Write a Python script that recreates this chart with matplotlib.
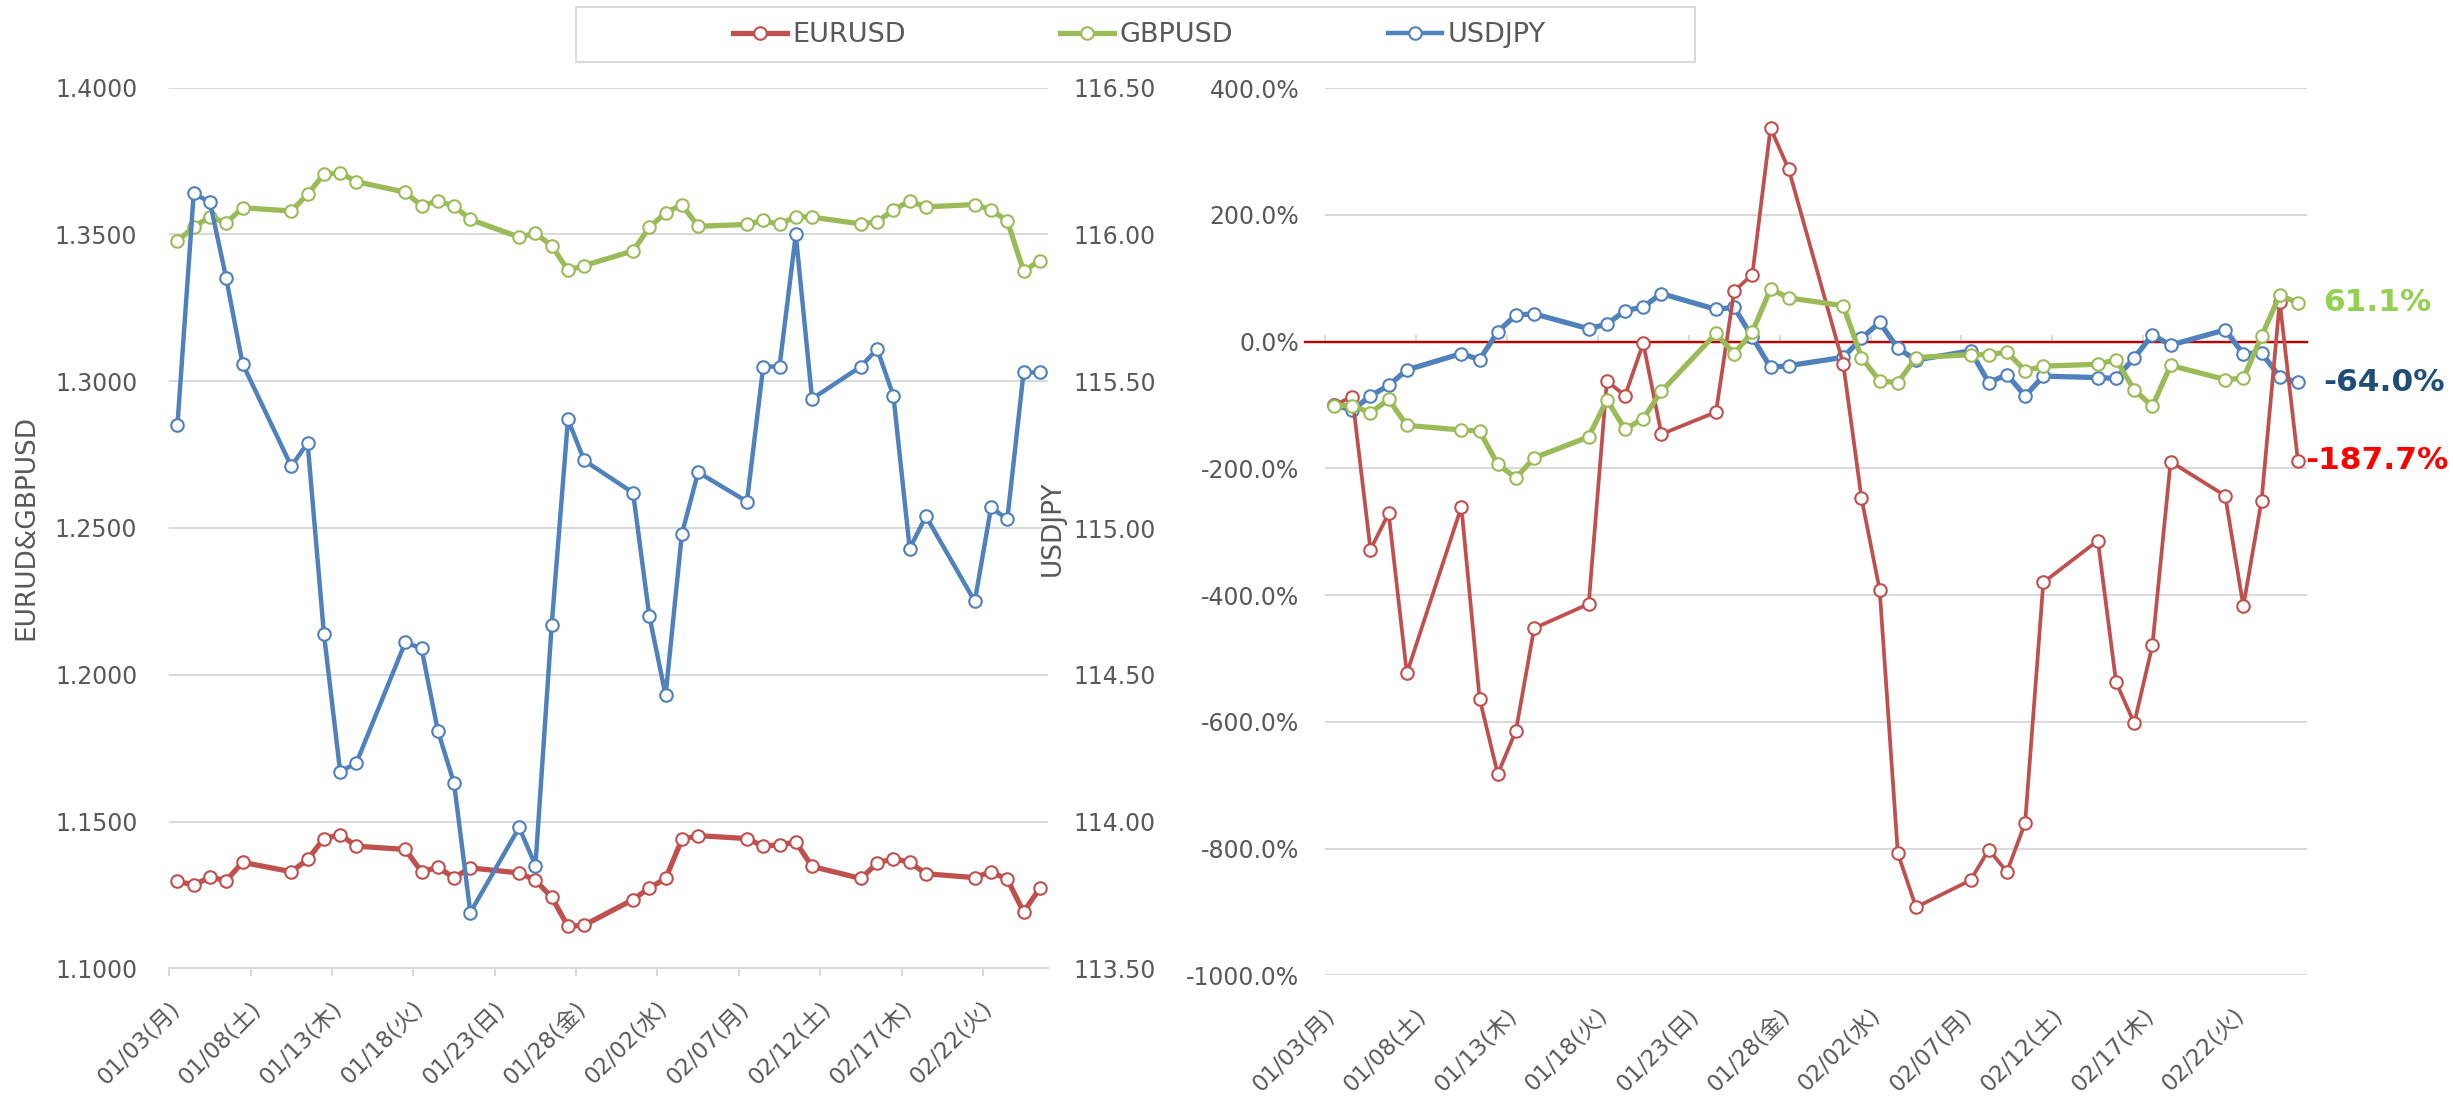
import numpy as np
import pandas as pd
import matplotlib
matplotlib.use("Agg")
import matplotlib.pyplot as plt
import matplotlib.dates as mdates
from matplotlib.lines import Line2D
from matplotlib.patches import Rectangle
from matplotlib.transforms import ScaledTranslation

plt.rcParams['font.family'] = ['DejaVu Sans', 'Noto Sans CJK JP']

# trading days 2022-01-03 .. 2022-02-25
dates = pd.bdate_range("2022-01-03", "2022-02-25")

# left chart: rates
eurusd = [1.1296, 1.1284, 1.1310, 1.1299, 1.1361,
          1.1329, 1.1371, 1.1442, 1.1455, 1.1416,
          1.1405, 1.1329, 1.1344, 1.1309, 1.1342,
          1.1325, 1.1300, 1.1242, 1.1143, 1.1147,
          1.1234, 1.1274, 1.1306, 1.1439, 1.1452,
          1.1442, 1.1416, 1.1421, 1.1430, 1.1347,
          1.1306, 1.1358, 1.1374, 1.1361, 1.1322,
          1.1309, 1.1329, 1.1303, 1.1192, 1.1273]
gbpusd = [1.3478, 1.3525, 1.3561, 1.3539, 1.3591,
          1.3580, 1.3637, 1.3705, 1.3710, 1.3680,
          1.3644, 1.3598, 1.3614, 1.3597, 1.3551,
          1.3491, 1.3504, 1.3462, 1.3378, 1.3394,
          1.3444, 1.3524, 1.3574, 1.3601, 1.3528,
          1.3534, 1.3548, 1.3534, 1.3561, 1.3559,
          1.3536, 1.3543, 1.3584, 1.3614, 1.3594,
          1.3602, 1.3584, 1.3546, 1.3375, 1.3411]
usdjpy = [115.35, 116.14, 116.11, 115.85, 115.56,
          115.21, 115.29, 114.64, 114.17, 114.20,
          114.61, 114.59, 114.31, 114.13, 113.69,
          113.98, 113.85, 114.67, 115.37, 115.23,
          115.12, 114.70, 114.43, 114.98, 115.19,
          115.09, 115.55, 115.55, 116.00, 115.44,
          115.55, 115.61, 115.45, 114.93, 115.04,
          114.75, 115.07, 115.03, 115.53, 115.53]

# right chart: percent values
eurusd_pct = [-100.0, -86.9, -328.2, -270.9, -523.5,
              -260.6, -563.3, -682.5, -613.9, -452.4,
              -413.9, -62.1, -85.1, -2.4, -146.0,
              -111.0, 80.0, 106.0, 337.2, 272.1,
              -35.5, -246.7, -391.6, -807.8, -892.7,
              -850.0, -801.8, -836.7, -759.6, -380.1,
              -313.9, -537.3, -602.4, -478.9, -189.4,
              -243.1, -417.5, -251.0, 63.3, -187.7]
gbpusd_pct = [-100.8, -100.8, -112.2, -91.1, -132.1,
              -139.4, -141.2, -193.7, -214.8, -183.4,
              -150.2, -91.7, -138.2, -121.3, -78.4,
              13.0, -19.0, 15.5, 83.2, 69.2,
              56.8, -25.0, -62.0, -64.7, -25.0,
              -20.5, -20.5, -16.3, -45.9, -38.6,
              -35.6, -28.4, -76.0, -102.0, -37.4,
              -59.7, -57.9, 8.4, 73.6, 61.1]
usdjpy_pct = [-100.0, -108.0, -85.7, -68.8, -44.6,
              -18.7, -28.4, 15.7, 42.2, 44.0,
              20.5, 27.8, 48.9, 54.9, 76.0,
              51.0, 54.5, 6.9, -40.5, -37.8,
              -24.7, 5.3, 30.6, -10.5, -28.9,
              -14.5, -64.6, -51.9, -85.7, -54.3,
              -56.7, -57.9, -25.3, 10.9, -5.4,
              18.7, -19.3, -17.5, -55.5, -64.0]

xtick_dates = pd.date_range("2022-01-03", periods=11, freq="5D")
xtick_labels = ["01/03(月)", "01/08(土)", "01/13(木)", "01/18(火)", "01/23(日)", "01/28(金)",
                "02/02(水)", "02/07(月)", "02/12(土)", "02/17(木)", "02/22(火)"]
left_ticks = [1.10, 1.15, 1.20, 1.25, 1.30, 1.35, 1.40]
jpy_ticks = [113.5, 114.0, 114.5, 115.0, 115.5, 116.0, 116.5]
pct_ticks = [-1000, -800, -600, -400, -200, 0, 200, 400]

RED = "#C0504D"
GREEN = "#9BBB59"
BLUE = "#4F81BD"
GRID = "#D9D9D9"
TXT = "#595959"

x = mdates.date2num(dates) + 0.5   # Excel puts points mid-day
xt = mdates.date2num(xtick_dates)
xlim = (mdates.date2num(pd.Timestamp("2022-01-03")), mdates.date2num(pd.Timestamp("2022-02-26")))

fig = plt.figure(figsize=(24.53, 10.98), dpi=100)
W, H = 2453, 1098


def px_axes(x0, y0, x1, y1):
    return fig.add_axes([x0 / W, 1 - y1 / H, (x1 - x0) / W, (y1 - y0) / H])


mk = dict(marker='o', markersize=9, markerfacecolor='white', markeredgewidth=1.5)
shift = ScaledTranslation(15 / 100, 0, fig.dpi_scale_trans)

# ---------- left chart ----------
ax = px_axes(169.3, 87.7, 1048, 968.3)
l_eur, = ax.plot(x, eurusd, color=RED, lw=3.8, markeredgecolor=RED, label="EURUSD", zorder=3, **mk)
l_gbp, = ax.plot(x, gbpusd, color=GREEN, lw=3.8, markeredgecolor=GREEN, label="GBPUSD", zorder=3, **mk)
ax.set_ylim(1.1, 1.4)
ax.set_xlim(*xlim)
ax.set_yticks(left_ticks)
ax.set_yticklabels([f"{v:.4f}" for v in left_ticks])
ax.set_xticks(xt)
ax.set_xticklabels(xtick_labels, rotation=45, ha='right')
ax.set_axisbelow(True)
ax.yaxis.grid(True, color=GRID, lw=1.4)
for s in ['top', 'left', 'right']:
    ax.spines[s].set_visible(False)
ax.spines['bottom'].set_color(GRID)
ax.spines['bottom'].set_linewidth(1.4)
ax.tick_params(axis='y', length=0, pad=23, labelsize=17, labelcolor=TXT)
ax.tick_params(axis='x', length=5.8, width=1.4, color=GRID, pad=15, labelsize=16.5, labelcolor=TXT)
for lbl in ax.get_xticklabels():
    lbl.set_transform(lbl.get_transform() + shift)
ax.text(-0.1631, 0.5, "EURUD&GBPUSD", rotation=90, ha='center', va='center',
        transform=ax.transAxes, fontsize=19, color=TXT)

ax2 = ax.twinx()
l_jpy, = ax2.plot(x, usdjpy, color=BLUE, lw=3.2, markeredgecolor=BLUE, label="USDJPY", zorder=3, **mk)
ax2.set_ylim(113.5, 116.5)
ax2.set_yticks(jpy_ticks)
ax2.set_yticklabels([f"{v:.2f}" for v in jpy_ticks])
for s in ax2.spines.values():
    s.set_visible(False)
ax2.tick_params(axis='y', length=0, pad=18, labelsize=17, labelcolor=TXT)
ax2.text(1.0057, 0.5, "USDJPY", rotation=90, ha='center', va='center',
         transform=ax.transAxes, fontsize=19, color=TXT)

# ---------- right chart ----------
ar = px_axes(1325, 88.3, 2307, 975.2)
ar.axhline(0, xmin=-0.02, xmax=1.0, color="#C00000", lw=1.7, clip_on=False, zorder=1.5)
ar.plot(x, usdjpy_pct, color=BLUE, lw=3.8, markeredgecolor=BLUE, zorder=3, **mk)
ar.plot(x, eurusd_pct, color=RED, lw=2.7, markeredgecolor=RED, zorder=4, **mk)
ar.plot(x, gbpusd_pct, color=GREEN, lw=3.8, markeredgecolor=GREEN, zorder=5, **mk)
ar.set_ylim(-1000, 400)
ar.set_xlim(*xlim)
ar.set_yticks(pct_ticks)
ar.set_yticklabels([f"{v:.1f}%" for v in pct_ticks])
ar.set_xticks(xt)
ar.set_xticklabels(xtick_labels, rotation=45, ha='right')
ar.set_axisbelow(True)
ar.yaxis.grid(True, color=GRID, lw=1.4)
for s in ar.spines.values():
    s.set_visible(False)
ar.tick_params(axis='y', length=0, pad=18.5, labelsize=17, labelcolor=TXT)
ar.tick_params(axis='x', length=0, pad=21, labelsize=16.5, labelcolor=TXT)
for lbl in ar.get_xticklabels():
    lbl.set_transform(lbl.get_transform() + shift)

# horizontal axis line crossing at 0 with tick marks
sec = ar.secondary_xaxis(1000 / 1400)
sec.set_xticks(xt)
sec.set_xticklabels([])
sec.tick_params(axis='x', length=5, width=1.4, color=GRID, direction='out')
sec.spines['bottom'].set_color(GRID)
sec.spines['bottom'].set_linewidth(1.4)
sec.set_zorder(0.5)

# end-of-series labels
end_labels = [(gbpusd_pct[-1], "#92D050", 18), (usdjpy_pct[-1], "#1F4E79", 18), (eurusd_pct[-1], "#FF0000", 5.5)]
for v, c, off in end_labels:
    ar.annotate(f"{v:.1f}%", xy=(x[-1], v), xytext=(off, 0), textcoords='offset points',
                ha='left', va='center', fontsize=22.5, fontweight='bold', color=c,
                annotation_clip=False)

# ---------- legend ----------
fig.patches.append(Rectangle((576 / W, 1 - 62 / H), 1119 / W, 55 / H, transform=fig.transFigure,
                             facecolor='white', edgecolor=GRID, lw=1.4, zorder=0))
fig.legend(handles=[l_eur, l_gbp, l_jpy], loc='center', bbox_to_anchor=(1139 / W, 1 - 35 / H),
           ncol=3, frameon=False, fontsize=19.5, handlelength=2.0, handletextpad=0.2,
           columnspacing=5.7, numpoints=1, labelcolor=TXT)

fig.savefig("out.png", dpi=100, facecolor='white')
